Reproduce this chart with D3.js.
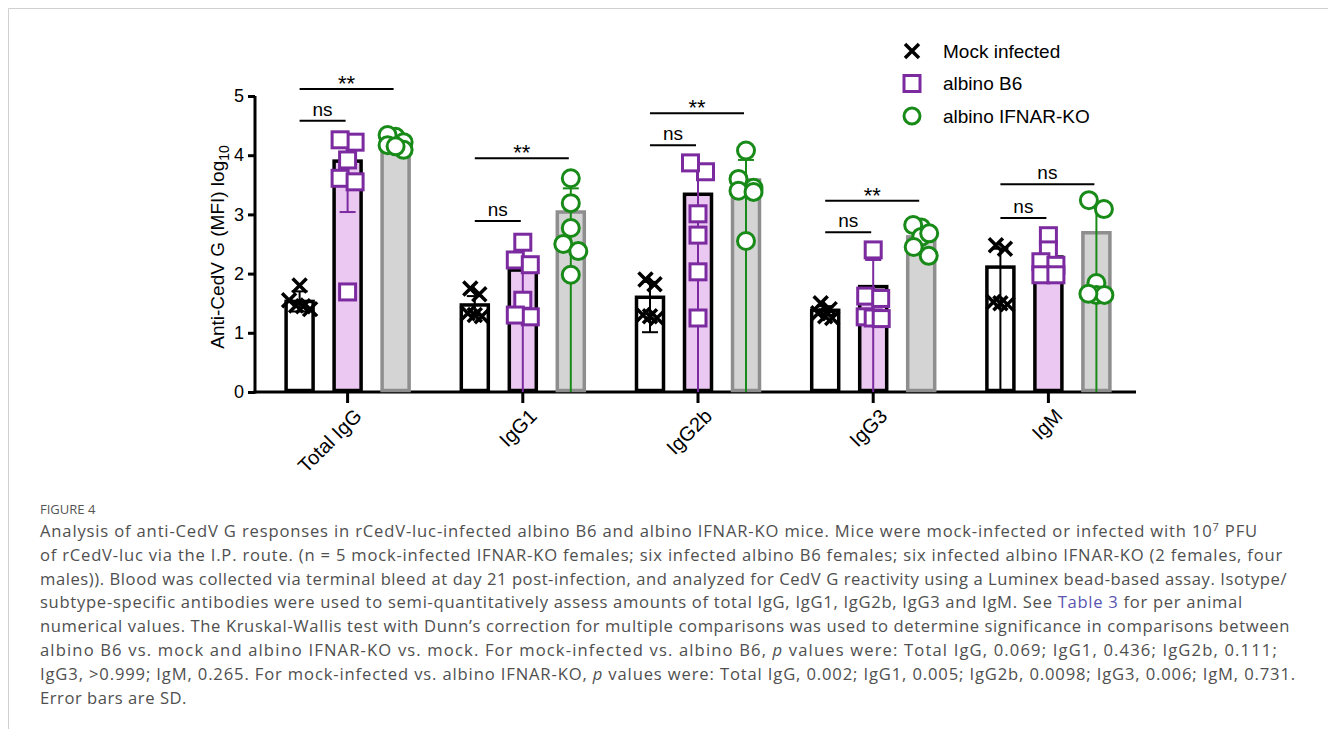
<!DOCTYPE html>
<html>
<head>
<meta charset="utf-8">
<script src="https://cdn.jsdelivr.net/npm/d3@7/dist/d3.min.js"></script>
<style>
  html, body { margin: 0; padding: 0; background: #fff; }
  svg { display: block; }
</style>
</head>
<body>
<svg id="chart" width="1328" height="729"></svg>
<script>
// categories and groups
const categories = ["Total IgG", "IgG1", "IgG2b", "IgG3", "IgM"];
const groups = ["Mock infected", "albino B6", "albino IFNAR-KO"];
const yTicks = [0, 1, 2, 3, 4, 5];

// bar heights (log10 MFI)
const mockMean = [1.53, 1.47, 1.60, 1.38, 2.11];
const b6Mean   = [3.90, 2.06, 3.34, 1.78, 2.28];
const koMean   = [4.18, 3.04, 3.58, 2.62, 2.69];

// error bar ends (0 = runs down to axis)
const mockErrHi = [1.70, 1.62, 1.86, 1.45, 2.42];
const mockErrLo = [1.36, 1.30, 1.01, 1.30, 0];
const b6ErrHi   = [4.20, 2.40, 3.75, 2.23, 2.45];
const b6ErrLo   = [3.04, 0, 0, 0, 2.08];
const koErrHi   = [4.28, 3.44, 3.92, 2.80, 3.15];
const koErrLo   = [4.06, 0, 0, 2.42, 0];

// individual animals
const mockPts = [
  [1.80, 1.55, 1.46, 1.40, 1.45],
  [1.75, 1.65, 1.30, 1.28, 1.33],
  [1.90, 1.82, 1.30, 1.25, 1.28],
  [1.50, 1.40, 1.33, 1.28, 1.25],
  [2.48, 2.42, 1.50, 1.48, 1.52]
];
const b6Pts = [
  [4.22, 4.26, 3.92, 3.61, 3.55, 1.69],
  [2.53, 2.23, 2.15, 1.55, 1.27, 1.30],
  [3.72, 3.87, 3.01, 2.65, 2.03, 1.25],
  [2.40, 1.62, 1.58, 1.27, 1.25, 1.24],
  [2.64, 2.40, 2.20, 2.14, 1.98, 1.98]
];
const koPts = [
  [4.31, 4.34, 4.17, 4.22, 4.09, 4.15],
  [3.61, 3.19, 2.77, 2.50, 2.38, 1.98],
  [4.08, 3.60, 3.45, 3.40, 3.38, 2.55],
  [2.78, 2.82, 2.62, 2.68, 2.45, 2.30],
  [3.24, 3.09, 1.84, 1.64, 1.64, 1.66]
];

// significance brackets: label and height for B6 vs mock, KO vs mock
const sigB6Label = ["ns", "ns", "ns", "ns", "ns"];
const sigB6Level = [4.58, 2.89, 4.17, 2.70, 2.94];
const sigKoLabel = ["**", "**", "**", "**", "ns"];
const sigKoLevel = [5.12, 3.95, 4.71, 3.23, 3.51];

const purple = "#7b2a9f";
const green = "#188a18";
const axisFont = "'Liberation Sans', Arial, sans-serif";

const svg = d3.select("#chart");

// page frame
svg.append("path")
  .attr("d", "M8.5,729V8.5H1328")
  .attr("fill", "none")
  .attr("stroke", "#d0d0d0")
  .attr("stroke-width", 1);

const axisX0 = 255;
const x = d3.scaleBand().domain(categories).range([260, 1136]);
const xg = d3.scalePoint().domain(groups).range([-48, 48]);
const y = d3.scaleLinear().domain([0, 5]).range([392, 96]);
const barW = 27;

const chart = svg.append("g");

// y axis
const yAxis = chart.append("g")
  .attr("transform", "translate(" + axisX0 + ",0)")
  .call(d3.axisLeft(y).tickValues(yTicks).tickFormat(d3.format("d")).tickSize(7).tickSizeOuter(0).tickPadding(4));
yAxis.select(".domain").attr("stroke-width", 3).attr("d", "M0," + (y(0) + 1.5) + "V" + y(5));
yAxis.selectAll(".tick line").attr("stroke-width", 3);
yAxis.selectAll("text").style("font-family", axisFont).style("font-size", "18px").attr("fill", "#000");

// y axis title
const yTitle = chart.append("text")
  .attr("transform", "translate(224," + y(2.45) + ") rotate(-90)")
  .attr("text-anchor", "middle")
  .style("font-family", axisFont)
  .style("font-size", "19px");
yTitle.append("tspan").text("Anti-CedV G (MFI) log");
yTitle.append("tspan").text("10").attr("dy", 5).style("font-size", "14px");

// x axis
const xAxis = chart.append("g")
  .attr("transform", "translate(0," + y(0) + ")")
  .call(d3.axisBottom(x).tickSize(11).tickSizeOuter(0).tickPadding(6));
xAxis.select(".domain").attr("stroke-width", 3).attr("d", "M" + (axisX0 - 1.5) + ",0H" + x.range()[1]);
xAxis.selectAll(".tick line").attr("stroke-width", 3);
xAxis.selectAll("text")
  .style("font-family", axisFont)
  .style("font-size", "20px")
  .attr("fill", "#000")
  .attr("text-anchor", "end")
  .attr("transform", "translate(4,14) rotate(-45)")
  .attr("dy", "0.35em")
  .attr("y", 9);

const series = [
  { name: groups[0], mean: mockMean, hi: mockErrHi, lo: mockErrLo, pts: mockPts,
    fill: "#ffffff", stroke: "#000", err: "#000", marker: "x", pair: 9, crowd: 7 },
  { name: groups[1], mean: b6Mean, hi: b6ErrHi, lo: b6ErrLo, pts: b6Pts,
    fill: "#ebc8f1", stroke: "#000", err: purple, marker: "square", pair: 15, crowd: 8 },
  { name: groups[2], mean: koMean, hi: koErrHi, lo: koErrLo, pts: koPts,
    fill: "#d4d4d4", stroke: "#8e8e8e", err: green, marker: "circle", pair: 15, crowd: 8 }
];

function cx(cat, grp) { return x(cat) + x.bandwidth() / 2 + xg(grp); }

// bars
series.forEach(s => {
  chart.append("g").selectAll("rect")
    .data(categories)
    .join("rect")
    .attr("x", d => cx(d, s.name) - barW / 2)
    .attr("y", (d, i) => y(s.mean[i]))
    .attr("width", barW)
    .attr("height", (d, i) => y(0) - y(s.mean[i]) - 1.5)
    .attr("fill", s.fill)
    .attr("stroke", s.stroke)
    .attr("stroke-width", 3.5);
});

// error bars
series.forEach(s => {
  const g = chart.append("g").attr("stroke", s.err).attr("stroke-width", 2).attr("fill", "none");
  categories.forEach((c, i) => {
    const px = cx(c, s.name);
    g.append("line").attr("x1", px).attr("x2", px).attr("y1", y(s.hi[i])).attr("y2", y(s.lo[i]));
    g.append("line").attr("x1", px - 8).attr("x2", px + 8).attr("y1", y(s.hi[i])).attr("y2", y(s.hi[i]));
    if (s.lo[i] > 0)
      g.append("line").attr("x1", px - 8).attr("x2", px + 8).attr("y1", y(s.lo[i])).attr("y2", y(s.lo[i]));
  });
});

// spread points that sit at the same height into rows
function spread(vals, pair, crowd) {
  const order = vals.map((v, i) => i).sort((a, b) => vals[b] - vals[a]);
  const offs = new Array(vals.length).fill(0);
  let row = [];
  const flush = () => {
    const n = row.length;
    const step = n > 2 ? crowd : pair;
    row.forEach((idx, k) => { offs[idx] = (k - (n - 1) / 2) * step; });
    row = [];
  };
  order.forEach(idx => {
    if (row.length && y(vals[idx]) - y(vals[row[0]]) > 9) flush();
    row.push(idx);
  });
  flush();
  return offs;
}

function drawMarker(g, type, px, py, color, size) {
  if (type === "x") {
    const h = size;
    g.append("path")
      .attr("d", `M${px - h},${py - h}L${px + h},${py + h}M${px - h},${py + h}L${px + h},${py - h}`)
      .attr("stroke", color).attr("stroke-width", 3.5).attr("fill", "none");
  } else if (type === "square") {
    g.append("rect")
      .attr("x", px - size).attr("y", py - size).attr("width", size * 2).attr("height", size * 2)
      .attr("fill", "#fff").attr("stroke", color).attr("stroke-width", 3);
  } else {
    g.append("circle")
      .attr("cx", px).attr("cy", py).attr("r", size)
      .attr("fill", "#fff").attr("stroke", color).attr("stroke-width", 3);
  }
}

const markerColor = { x: "#000", square: purple, circle: green };
const markerSize = { x: 7, square: 8, circle: 8.5 };

series.forEach(s => {
  const g = chart.append("g");
  categories.forEach((c, i) => {
    const offs = spread(s.pts[i], s.pair, s.crowd);
    s.pts[i].forEach((v, k) => {
      drawMarker(g, s.marker, cx(c, s.name) + offs[k], y(v), markerColor[s.marker], markerSize[s.marker]);
    });
  });
});

// significance brackets
const sig = chart.append("g");
function bracket(c, grpTo, level, label) {
  const x1 = cx(c, groups[0]), x2 = cx(c, grpTo) - 2;
  sig.append("line")
    .attr("x1", x1).attr("x2", x2).attr("y1", y(level)).attr("y2", y(level))
    .attr("stroke", "#000").attr("stroke-width", 2);
  sig.append("text")
    .attr("x", (x1 + x2) / 2)
    .attr("y", y(level) - (label === "**" ? -2 : 5))
    .attr("text-anchor", "middle")
    .style("font-family", axisFont)
    .style("font-size", label === "**" ? "22px" : "19px")
    .text(label);
}
categories.forEach((c, i) => {
  bracket(c, groups[1], sigB6Level[i], sigB6Label[i]);
  bracket(c, groups[2], sigKoLevel[i], sigKoLabel[i]);
});

// legend
const legend = svg.append("g").attr("transform", "translate(912,51)");
series.forEach((s, i) => {
  const row = legend.append("g").attr("transform", "translate(0," + i * 32.5 + ")");
  drawMarker(row, s.marker, 0, 0, markerColor[s.marker], s.marker === "x" ? 7 : 8);
  row.append("text")
    .attr("x", 31).attr("y", 6.5)
    .style("font-family", axisFont)
    .style("font-size", "19px")
    .text(s.name);
});

// caption
const capFont = "'Open Sans', 'Noto Sans', sans-serif";
svg.append("text")
  .attr("x", 40).attr("y", 514)
  .style("font-family", capFont)
  .style("font-size", "13px")
  .attr("fill", "#555")
  .text("FIGURE 4");

const captionLines = [
  [["Analysis of anti-CedV G responses in rCedV-luc-infected albino B6 and albino IFNAR-KO mice. Mice were mock-infected or infected with 10"], ["7", "sup"], [" PFU"]],
  [["of rCedV-luc via the I.P. route. (n = 5 mock-infected IFNAR-KO females; six infected albino B6 females; six infected albino IFNAR-KO (2 females, four"]],
  [["males)). Blood was collected via terminal bleed at day 21 post-infection, and analyzed for CedV G reactivity using a Luminex bead-based assay. Isotype/"]],
  [["subtype-specific antibodies were used to semi-quantitatively assess amounts of total IgG, IgG1, IgG2b, IgG3 and IgM. See "], ["Table 3", "link"], [" for per animal"]],
  [["numerical values. The Kruskal-Wallis test with Dunn\u2019s correction for multiple comparisons was used to determine significance in comparisons between"]],
  [["albino B6 vs. mock and albino IFNAR-KO vs. mock. For mock-infected vs. albino B6, "], ["p", "it"], [" values were: Total IgG, 0.069; IgG1, 0.436; IgG2b, 0.111;"]],
  [["IgG3, >0.999; IgM, 0.265. For mock-infected vs. albino IFNAR-KO, "], ["p", "it"], [" values were: Total IgG, 0.002; IgG1, 0.005; IgG2b, 0.0098; IgG3, 0.006; IgM, 0.731."]],
  [["Error bars are SD."]]
];
// right edge of each caption line in the reference layout
const captionLineEnds = [1258, 1283, 1287, 1243, 1290, 1278, 1296, 187];

const cap = svg.append("g")
  .style("font-family", capFont)
  .style("font-size", "16.6px")
  .attr("fill", "#4f4f4f");
captionLines.forEach((segs, li) => {
  const t = cap.append("text").attr("x", 40).attr("y", 537 + li * 23.8);
  segs.forEach(([str, kind], k) => {
    const sp = t.append("tspan").text(str);
    if (kind === "sup") sp.attr("dy", -6).style("font-size", "11px");
    if (kind === "link") sp.attr("fill", "#5a55b0");
    if (kind === "it") sp.style("font-style", "italic");
    if (k > 0 && segs[k - 1][1] === "sup") sp.attr("dy", 6);
  });
  // tighten or loosen letter spacing so the line ends where it does in the reference
  const natural = t.node().getComputedTextLength();
  const nChars = segs.map(s => s[0]).join("").length;
  const ls = (captionLineEnds[li] - 40 - natural) / nChars;
  t.style("letter-spacing", ls.toFixed(3) + "px");
});
</script>
</body>
</html>
